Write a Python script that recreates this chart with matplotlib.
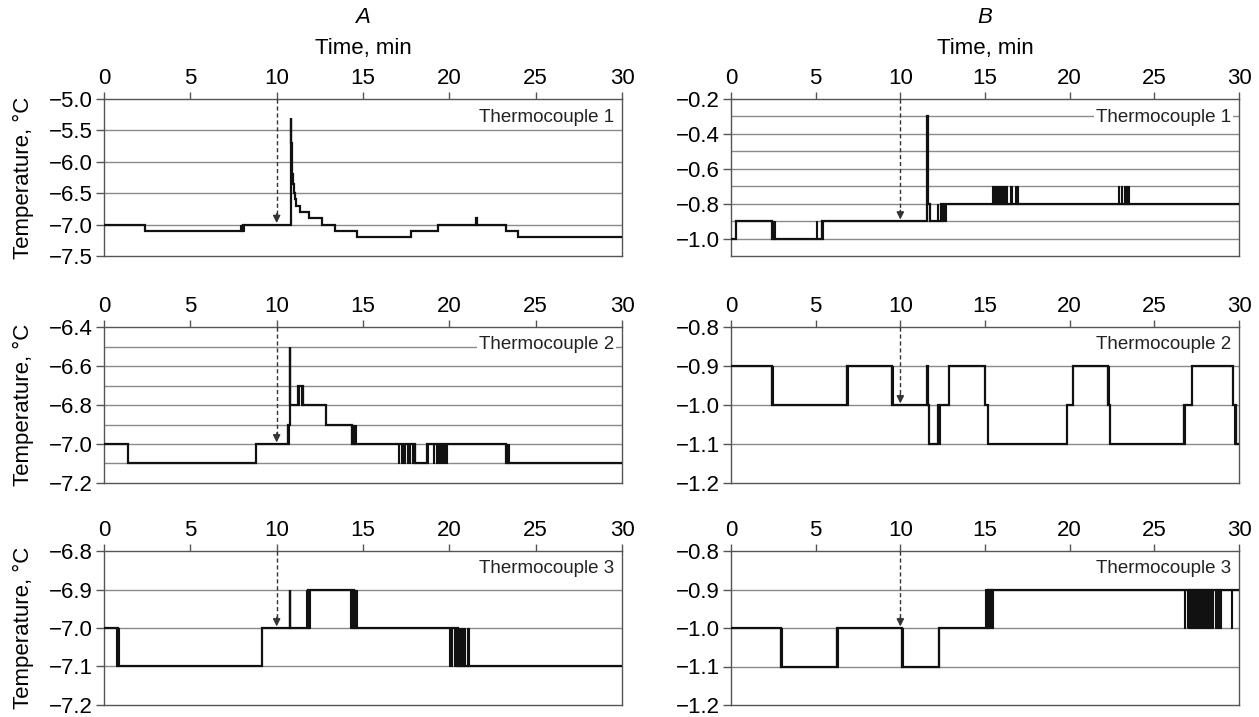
import matplotlib
matplotlib.use("Agg")
import matplotlib.pyplot as plt

plt.rcParams['font.family'] = ['Liberation Sans', 'DejaVu Sans']

# ---------------- data ----------------
# Panel A, thermocouple 1 (steps-post breakpoints)
a1_t = [0, 2.36, 8.05, 10.80, 10.82, 10.84, 10.86, 10.90, 10.95, 11.00, 11.05, 11.12, 11.35,
        11.85, 12.65, 13.35, 14.65, 17.8, 19.37, 21.55, 21.60, 23.27, 24.0, 30]
a1_v = [-7.0, -7.1, -7.0, -7.0, -5.3, -5.7, -6.0, -6.2, -6.35, -6.5, -6.6, -6.7, -6.8,
        -6.9, -7.0, -7.1, -7.2, -7.1, -7.0, -6.9, -7.0, -7.1, -7.2, -7.2]
a1_bursts = [(7.9, 8.1, -7.1, -7.0)]

# Panel B, thermocouple 1
b1_t = [0, 0.28, 2.45, 5.35, 11.58, 11.61, 11.74, 12.4, 30]
b1_v = [-1.0, -0.9, -1.0, -0.9, -0.3, -0.8, -0.9, -0.8, -0.8]
b1_bursts = [(2.4, 2.6, -1.0, -0.9), (5.02, 5.08, -1.0, -0.9), (5.3, 5.45, -1.0, -0.9),
             (12.17, 12.2, -0.9, -0.8), (12.4, 12.7, -0.9, -0.8),
             (15.4, 16.3, -0.8, -0.7), (16.45, 16.6, -0.8, -0.7), (16.78, 16.95, -0.8, -0.7),
             (22.85, 22.92, -0.8, -0.7), (23.02, 23.08, -0.8, -0.7), (23.18, 23.5, -0.8, -0.7)]

# Panel A, thermocouple 2
a2_t = [0, 1.37, 8.81, 10.63, 10.77, 10.80, 11.25, 11.5, 12.83, 14.34, 17.03, 18.0, 18.7,
        19.05, 19.85, 23.27, 30]
a2_v = [-7.0, -7.1, -7.0, -6.9, -6.5, -6.8, -6.7, -6.8, -6.9, -7.0, -7.0, -7.1, -7.0,
        -7.0, -7.0, -7.1, -7.1]
a2_bursts = [(10.6, 10.72, -7.0, -6.9), (11.25, 11.3, -6.8, -6.7), (11.42, 11.5, -6.8, -6.7),
             (14.3, 14.6, -7.0, -6.9),
             (17.0, 17.08, -7.1, -7.0), (17.2, 17.45, -7.1, -7.0), (17.55, 17.75, -7.1, -7.0),
             (17.85, 18.0, -7.1, -7.0), (18.68, 18.74, -7.1, -7.0), (19.05, 19.1, -7.1, -7.0),
             (19.2, 19.85, -7.1, -7.0), (23.27, 23.45, -7.1, -7.0)]

# Panel B, thermocouple 2
b2_t = [0, 2.41, 6.85, 9.5, 11.6, 11.65, 11.7, 12.25, 12.85, 15.0, 15.15, 19.85, 20.2,
        22.25, 22.4, 26.75, 27.2, 29.65, 29.8, 30]
b2_v = [-0.9, -1.0, -0.9, -1.0, -0.9, -1.0, -1.1, -1.0, -0.9, -1.0, -1.1, -1.0, -0.9,
        -1.0, -1.1, -1.0, -0.9, -1.0, -1.1, -1.1]
b2_bursts = [(2.36, 2.46, -1.0, -0.9), (6.78, 6.9, -1.0, -0.9), (9.45, 9.55, -1.0, -0.9),
             (12.2, 12.32, -1.1, -1.0), (22.2, 22.3, -1.0, -0.9), (26.7, 26.8, -1.1, -1.0),
             (29.7, 29.85, -1.1, -1.0)]

# Panel A, thermocouple 3
a3_t = [0, 0.8, 9.17, 10.75, 10.78, 11.8, 14.5, 20.5, 30]
a3_v = [-7.0, -7.1, -7.0, -6.9, -7.0, -6.9, -7.0, -7.1, -7.1]
a3_bursts = [(0.72, 0.88, -7.1, -7.0), (11.7, 11.93, -7.0, -6.9), (14.25, 14.67, -7.0, -6.9),
             (19.96, 20.15, -7.1, -7.0), (20.25, 20.9, -7.1, -7.0), (21.0, 21.14, -7.1, -7.0)]

# Panel B, thermocouple 3
b3_t = [0, 2.95, 6.26, 10.1, 12.28, 15.2, 30]
b3_v = [-1.0, -1.1, -1.0, -1.1, -1.0, -0.9, -0.9]
b3_bursts = [(2.9, 3.0, -1.1, -1.0), (6.2, 6.3, -1.1, -1.0), (10.05, 10.15, -1.1, -1.0),
             (12.2, 12.3, -1.1, -1.0), (15.0, 15.5, -1.0, -0.9),
             (26.75, 26.79, -1.0, -0.9), (26.9, 26.95, -1.0, -0.9), (27.0, 28.45, -1.0, -0.9),
             (28.58, 28.95, -1.0, -0.9), (29.5, 29.56, -1.0, -0.9)]

# axis settings
x_ticks = [0, 5, 10, 15, 20, 25, 30]
a1_ylim = (-7.5, -5.0); a1_major = [-5.0, -5.5, -6.0, -6.5, -7.0, -7.5]; a1_minor = []
b1_ylim = (-1.1, -0.2); b1_major = [-0.2, -0.4, -0.6, -0.8, -1.0]; b1_minor = [-0.3, -0.5, -0.7, -0.9]
a2_ylim = (-7.2, -6.4); a2_major = [-6.4, -6.6, -6.8, -7.0, -7.2]; a2_minor = [-6.5, -6.7, -6.9, -7.1]
b2_ylim = (-1.2, -0.8); b2_major = [-0.8, -0.9, -1.0, -1.1, -1.2]; b2_minor = []
a3_ylim = (-7.2, -6.8); a3_major = [-6.8, -6.9, -7.0, -7.1, -7.2]; a3_minor = []
b3_ylim = (-1.2, -0.8); b3_major = [-0.8, -0.9, -1.0, -1.1, -1.2]; b3_minor = []

arrow_time = 10
arrow_tips = {"a1": -7.0, "b1": -0.9, "a2": -7.0, "b2": -1.0, "a3": -7.0, "b3": -1.0}
labels = {"a1": "Thermocouple 1", "b1": "Thermocouple 1", "a2": "Thermocouple 2",
          "b2": "Thermocouple 2", "a3": "Thermocouple 3", "b3": "Thermocouple 3"}

# ---------------- figure ----------------
W, H = 1259, 717
fig = plt.figure(figsize=(W / 100, H / 100), dpi=100)

def rect(x0, x1, y0, y1):
    return [x0 / W, 1 - y1 / H, (x1 - x0) / W, (y1 - y0) / H]

left_x = (104, 622)
right_x = (731, 1239)
rows_y = [(99, 256), (327, 483), (551, 705)]

panels = [
    ("a1", left_x, rows_y[0], a1_t, a1_v, a1_bursts, a1_ylim, a1_major, a1_minor),
    ("b1", right_x, rows_y[0], b1_t, b1_v, b1_bursts, b1_ylim, b1_major, b1_minor),
    ("a2", left_x, rows_y[1], a2_t, a2_v, a2_bursts, a2_ylim, a2_major, a2_minor),
    ("b2", right_x, rows_y[1], b2_t, b2_v, b2_bursts, b2_ylim, b2_major, b2_minor),
    ("a3", left_x, rows_y[2], a3_t, a3_v, a3_bursts, a3_ylim, a3_major, a3_minor),
    ("b3", right_x, rows_y[2], b3_t, b3_v, b3_bursts, b3_ylim, b3_major, b3_minor),
]

line_col = '#111111'
grid_col = '#8a8a8a'
spine_col = '#555555'
tick_fs = 16

for key, xr, yr, t, v, bursts, ylim, major, minor in panels:
    ax = fig.add_axes(rect(xr[0], xr[1], yr[0], yr[1]))
    ax.set_xlim(0, 30)
    ax.set_ylim(*ylim)
    ax.set_xticks(x_ticks)
    ax.set_yticks(major)
    ax.set_yticklabels([f"{m:.1f}".replace('-', '\u2212') for m in major])
    if minor:
        ax.set_yticks(minor, minor=True)
    ax.tick_params(axis='y', which='minor', length=0)
    for lvl in list(major) + list(minor):
        if ylim[0] < lvl < ylim[1]:
            ax.axhline(lvl, color=grid_col, lw=1.0, zorder=1)
    ax.xaxis.tick_top()
    ax.tick_params(axis='x', which='major', direction='out', length=5, width=1,
                   color=spine_col, labelsize=tick_fs, pad=2)
    ax.tick_params(axis='y', which='major', direction='out', length=6, width=1,
                   color=spine_col, labelsize=tick_fs, pad=2)
    for s in ax.spines.values():
        s.set_color(spine_col)
        s.set_linewidth(1.0)

    ax.plot(t, v, drawstyle='steps-post', color=line_col, lw=1.6, zorder=3,
            solid_joinstyle='miter')
    for (t0, t1, lo, hi) in bursts:
        ax.fill_between([t0, t1], lo, hi, color=line_col, lw=0.8, zorder=3)

    # dashed arrow at t = 10
    tip = arrow_tips[key]
    span = ylim[1] - ylim[0]
    ax.plot([arrow_time, arrow_time], [ylim[1], tip + 0.06 * span], ls=(0, (3, 2)),
            color='#333333', lw=1.0, zorder=4)
    ax.annotate('', xy=(arrow_time, tip + 0.01 * span), xytext=(arrow_time, tip + 0.07 * span),
                arrowprops=dict(arrowstyle='-|>', color='#333333', lw=1.0,
                                mutation_scale=11, shrinkA=0, shrinkB=0), zorder=5)

    ax.text(0.985, 0.885, labels[key], transform=ax.transAxes, ha='right', va='center',
            fontsize=13.5, color='#222222', zorder=6,
            bbox=dict(facecolor='white', edgecolor='none', pad=1.5))

    if key.startswith('a'):
        ax.set_ylabel('Temperature, \u00b0C', fontsize=16, labelpad=11)
    if key in ('a1', 'b1'):
        ax.xaxis.set_label_position('top')
        ax.set_xlabel('Time, min', fontsize=16, labelpad=10)
        ax.set_title('A' if key == 'a1' else 'B', fontsize=16, style='italic', pad=11)

fig.savefig('out.png', dpi=100)
